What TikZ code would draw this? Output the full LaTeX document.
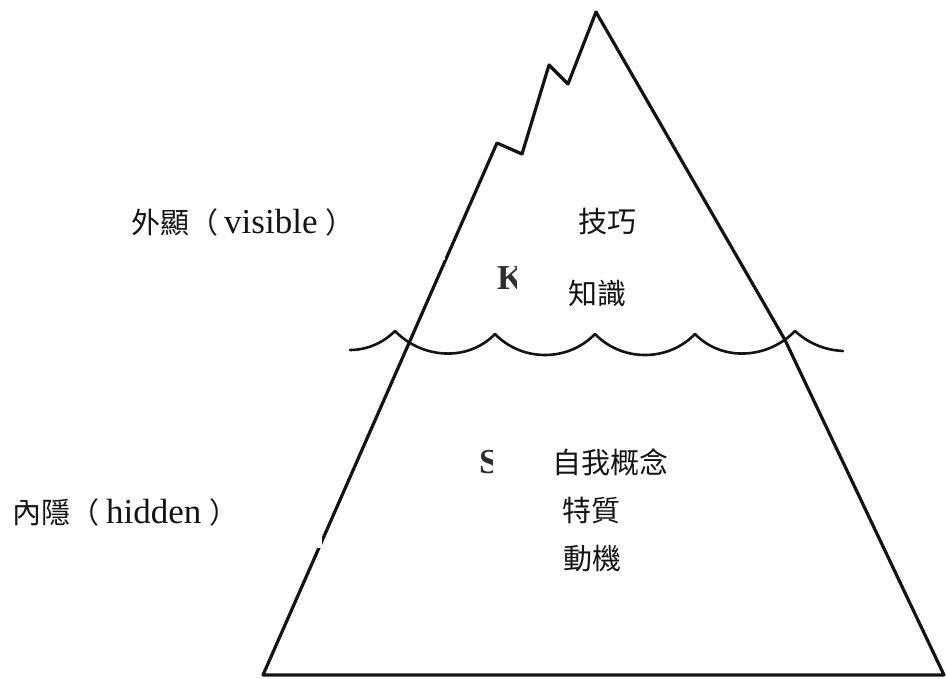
\documentclass[tikz,border=0pt]{standalone}
\usepackage{fontspec}
\setmainfont{Liberation Serif}
\newfontfamily\cjk{Noto Sans CJK TC}
\definecolor{ink}{HTML}{141414}
\definecolor{letgray}{HTML}{2E2E2E}
\begin{document}
\begin{tikzpicture}[x=1pt,y=-1pt,
  outline/.style={line width=3.2pt, draw=ink, line join=round},
  wave/.style={line width=2.6pt, draw=ink, line cap=round, line join=round},
  cover/.style={fill=white, draw=none},
  cjklbl/.style={inner sep=0pt, anchor=base, text=ink, font=\cjk\fontsize{29}{29}\selectfont},
  sidelbl/.style={inner sep=0pt, anchor=base west, text=ink, font=\fontsize{35}{35}\selectfont},
  biglet/.style={inner sep=0pt, anchor=base west, text=letgray, font=\bfseries\fontsize{35}{35}\selectfont}]
\useasboundingbox[fill=white] (0,0) rectangle (946,679);

% iceberg outline
\coordinate (bl) at (263,675);
\coordinate (j1) at (497,143);
\coordinate (n1) at (522,154);
\coordinate (j2) at (549,65);
\coordinate (n2) at (568,84);
\coordinate (pk) at (596,12);
\coordinate (rw) at (785,340);
\coordinate (br) at (944,675);
\draw[outline] (bl) -- (j1) -- (n1) -- (j2) -- (n2) -- (pk) -- (rw) -- (br) -- cycle;

% water line
\coordinate (w0) at (350,350);
\coordinate (c1) at (395,331);
\coordinate (c2) at (495,334);
\coordinate (c3) at (595,334);
\coordinate (c4) at (695,334);
\coordinate (c5) at (795,331);
\coordinate (w6) at (843,351);
\draw[wave] (w0) .. controls (367,350) and (383,343) .. (c1)
  .. controls (422,359) and (468,362) .. (c2)
  .. controls (522,362) and (568,362) .. (c3)
  .. controls (622,362) and (668,362) .. (c4)
  .. controls (722,362) and (768,359) .. (c5)
  .. controls (808,343) and (824,350) .. (w6);

% partly covered letters
\node[biglet] (K) at (497,290) {K};
\node[biglet] (S) at (479,473) {S};

% white pasted boxes (scan artefacts)
\fill[cover] (100,180) rectangle (445,260);
\fill[cover] (0,440) rectangle (322,548);
\fill[cover] (517,250) rectangle (690,318);
\fill[cover] (493,440) rectangle (700,600);

% labels
\node[sidelbl] (vis) at (131,234) {{\cjk\fontsize{29}{29}\selectfont 外顯（}\hspace{6pt}visible\hspace{8pt}{\cjk\fontsize{29}{29}\selectfont ）}};
\node[sidelbl] (hid) at (12,523) {{\cjk\fontsize{29}{29}\selectfont 內隱（}\hspace{7pt}hidden\hspace{8pt}{\cjk\fontsize{29}{29}\selectfont ）}};

\node[cjklbl] (skill) at (607,233) {技巧};
\node[cjklbl] (know) at (597,305) {知識};
\node[cjklbl] (self) at (610,473) {自我概念};
\node[cjklbl] (trait) at (591,521) {特質};
\node[cjklbl] (motive) at (592,569) {動機};
\end{tikzpicture}
\end{document}
